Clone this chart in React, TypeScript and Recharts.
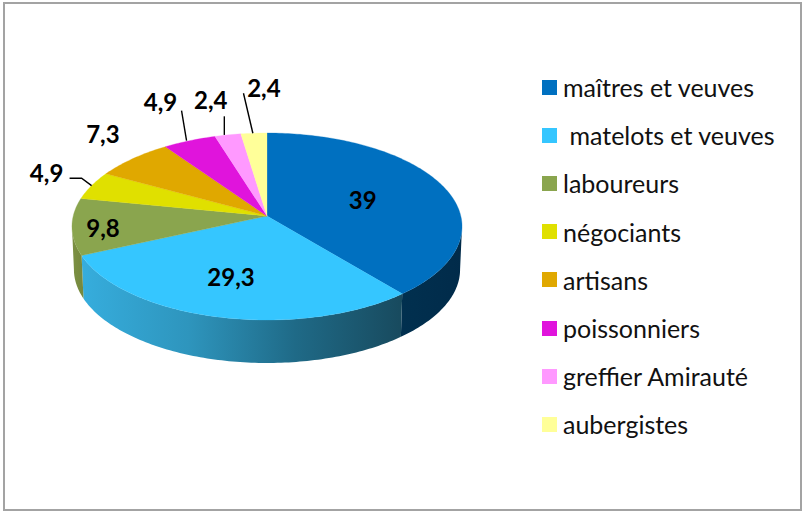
import React from "react";
import { PieChart, Pie, Legend } from "recharts";

const categories = ["maîtres et veuves", " matelots et veuves", "laboureurs", "négociants", "artisans", "poissonniers", "greffier Amirauté", "aubergistes"];
const values = [39, 29.3, 9.8, 4.9, 7.3, 4.9, 2.4, 2.4];
const valueLabels = ["39", "29,3", "9,8", "4,9", "7,3", "4,9", "2,4", "2,4"];
const colors = ["#0070C0", "#35C6FF", "#8AA54E", "#E0E000", "#E0A800", "#E014DC", "#FF99FF", "#FFFF99"];
const wallStops: string[][] = [
  ["#01304F", "#012B4A"],
  ["#36ADDD", "#2E95BD", "#1F6A87", "#184A5E"],
  ["#7C9144", "#76893E"],
  ["#A0A000"], ["#A07800"], ["#A010A0"], ["#B070B0"], ["#B0B070"],
];
// label centre and leader-line points, as offsets from each slice's rim midpoint
const labelOffsets = [[-80, 14], [13.5, -40], [31, 1], [-45, -13], [-30, -25], [-29, -39], [-17, -35], [10, -46]];
const leaderLines: number[][][] = [
  [], [], [],
  [[-22, -7.4], [-10, -7.4], [0, 0]],
  [],
  [[-8, -30], [-3, 0]],
  [[-3.5, -18.6], [-3.5, 0]],
  [[-10.4, -40], [-1, 0]],
];

const data = categories.map((name, i) => ({ name, value: values[i], fill: colors[i] }));

const FONT = "Lato, Carlito, sans-serif";
const SQUASH = 0.4763;
const PERSP = 0.1123;
const DEPTH = 43;
const WALL_SHRINK = 0.99;
const WALL_FROM = 96.45;
const WALL_TO = 263.55;

// Clock angle in degrees from the top, clockwise, to the screen, with perspective tilt
function project(cx: number, cy: number, r: number, clock: number) {
  const t = (clock * Math.PI) / 180;
  const u = Math.sin(t);
  const v = -Math.cos(t);
  const d = 1 - PERSP * v;
  return { x: cx + (r * u) / d, y: cy + (r * SQUASH * v) / d };
}

function rim(cx: number, cy: number, r: number, a: number, b: number) {
  const pts: { x: number; y: number }[] = [];
  const n = Math.max(2, Math.ceil(Math.abs(b - a)));
  for (let i = 0; i <= n; i++) pts.push(project(cx, cy, r, a + ((b - a) * i) / n));
  return pts;
}

const toPath = (pts: { x: number; y: number }[]) =>
  pts.map((p, i) => `${i ? "L" : "M"}${p.x.toFixed(2)} ${p.y.toFixed(2)}`).join("") + "Z";

function Slice3D(props: any) {
  const { cx, cy, outerRadius, startAngle, endAngle, fill, index } = props;
  const a = 90 - startAngle;
  const b = 90 - endAngle;
  const top = [{ x: cx, y: cy }, ...rim(cx, cy, outerRadius, a, b)];
  const wa = Math.max(a, WALL_FROM);
  const wb = Math.min(b, WALL_TO);
  let wall = null;
  if (wb > wa) {
    const upper = rim(cx, cy, outerRadius, wa, wb);
    const lower = [...upper].reverse().map((p) => ({ x: cx + (p.x - cx) * WALL_SHRINK, y: p.y + DEPTH }));
    const stops = wallStops[index] || ["#555555"];
    const id = `wall-${index}`;
    const xs = upper.map((p) => p.x);
    wall = (
      <g>
        <defs>
          <linearGradient id={id} gradientUnits="userSpaceOnUse" x1={Math.min(...xs)} x2={Math.max(...xs)} y1={0} y2={0}>
            {stops.map((c, i) => (
              <stop key={i} offset={stops.length > 1 ? i / (stops.length - 1) : 0} stopColor={c} />
            ))}
          </linearGradient>
        </defs>
        <path d={toPath([...upper, ...lower])} fill={`url(#${id})`} />
      </g>
    );
  }
  return (
    <g>
      {wall}
      <path d={toPath(top)} fill={fill} stroke={fill} strokeWidth={0.3} />
    </g>
  );
}

function SliceLabel(props: any) {
  const { cx, cy, outerRadius, midAngle, index } = props;
  const p = project(cx, cy, outerRadius, 90 - midAngle);
  const [dx, dy] = labelOffsets[index];
  const line = leaderLines[index];
  return (
    <g>
      {line.length > 0 && (
        <polyline
          points={line.map(([lx, ly]) => `${p.x + lx},${p.y + ly}`).join(" ")}
          fill="none"
          stroke="#000000"
          strokeWidth={1.4}
        />
      )}
      <text
        x={p.x + dx}
        y={p.y + dy}
        textAnchor="middle"
        dominantBaseline="central"
        fontFamily={FONT}
        fontWeight={700}
        fontSize={24}
        fill="#000000"
      >
        {valueLabels[index]}
      </text>
    </g>
  );
}

function LegendList(props: any) {
  const items = props.payload || [];
  return (
    <div style={{ fontFamily: FONT, fontSize: 25, color: "#111111", whiteSpace: "pre" }}>
      {items.map((it: any, i: number) => (
        <div key={i} style={{ height: 48.2, display: "flex", alignItems: "center" }}>
          <span style={{ display: "inline-block", width: 15, height: 15, background: it.color, marginRight: 6, flex: "none" }} />
          <span>{it.value}</span>
        </div>
      ))}
    </div>
  );
}

export default function App() {
  return (
    <div style={{ position: "absolute", left: 0, top: 0, width: 803, height: 511, background: "#FFFFFF" }}>
      <div style={{ position: "absolute", left: 3, top: 2, width: 795, height: 505, border: "2px solid #A3A3A3" }} />
      <div style={{ position: "absolute", left: 0, top: 0 }}>
        <PieChart width={803} height={511} margin={{ top: 0, right: 0, bottom: 0, left: 0 }}>
          <Pie
            data={data}
            dataKey="value"
            nameKey="name"
            cx={267}
            cy={216}
            innerRadius={0}
            outerRadius={193.8}
            startAngle={90}
            endAngle={-270}
            stroke="none"
            isAnimationActive={false}
            shape={Slice3D}
            inactiveShape={Slice3D}
            activeShape={Slice3D}
            label={SliceLabel}
            labelLine={false}
          />
          <Legend
            content={LegendList}
            layout="vertical"
            align="right"
            verticalAlign="top"
            itemSorter={null}
            wrapperStyle={{ position: "absolute", left: 542, top: 63, width: 250 }}
          />
        </PieChart>
      </div>
    </div>
  );
}
